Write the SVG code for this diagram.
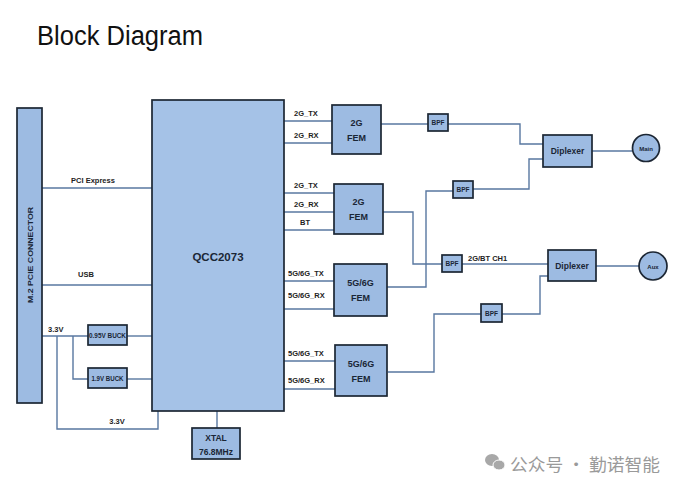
<svg xmlns="http://www.w3.org/2000/svg" width="682" height="490" viewBox="0 0 682 490">
<style>
.box{fill:#9dbbe2;stroke:#1c2633;stroke-width:1.7}
.big{fill:#a5c2e7;stroke:#1c2633;stroke-width:1.7}
.ln{fill:none;stroke:#5877a0;stroke-width:1.4}
text{font-family:"Liberation Sans",Arial,sans-serif;font-weight:bold;fill:#1a2636}
.lb{font-size:7.5px;fill:#222}
.c{text-anchor:middle}
.bpf{font-size:6.5px}
</style>
<rect width="682" height="490" fill="#ffffff"/>
<text x="37" y="45" font-size="27" style="font-weight:normal;fill:#111" textLength="166" lengthAdjust="spacingAndGlyphs">Block Diagram</text>

<g id="connectors">
<line class="ln" x1="42" y1="188" x2="152" y2="188"/>
<line class="ln" x1="42" y1="285" x2="152" y2="285"/>
<line class="ln" x1="42" y1="336" x2="88" y2="336"/>
<line class="ln" x1="127" y1="336" x2="152" y2="336"/>
<polyline class="ln" points="73,336 73,379 88,379"/>
<line class="ln" x1="127" y1="379" x2="152" y2="379"/>
<polyline class="ln" points="57,336 57,429 158,429 158,411"/>
<line class="ln" x1="217" y1="411" x2="217" y2="428"/>
<line class="ln" x1="284" y1="121" x2="332" y2="121"/>
<line class="ln" x1="284" y1="143" x2="332" y2="143"/>
<line class="ln" x1="284" y1="193" x2="334" y2="193"/>
<line class="ln" x1="284" y1="212" x2="334" y2="212"/>
<line class="ln" x1="284" y1="230" x2="334" y2="230"/>
<line class="ln" x1="284" y1="281" x2="334" y2="281"/>
<line class="ln" x1="284" y1="309" x2="334" y2="309"/>
<line class="ln" x1="284" y1="361" x2="335" y2="361"/>
<line class="ln" x1="284" y1="389" x2="335" y2="389"/>
<line class="ln" x1="381" y1="124" x2="428" y2="124"/>
<polyline class="ln" points="448,124 520,124 520,144 543,144"/>
<polyline class="ln" points="543,159 529,159 529,189 473,189"/>
<polyline class="ln" points="453,191 426,191 426,287 387,287"/>
<polyline class="ln" points="383,212 413,212 413,264 442,264"/>
<line class="ln" x1="462" y1="264" x2="548" y2="264"/>
<polyline class="ln" points="548,276 540,276 540,314 502,314"/>
<polyline class="ln" points="481,314 434,314 434,372 388,372"/>
<line class="ln" x1="592" y1="151" x2="632" y2="151"/>
<line class="ln" x1="596" y1="266" x2="639" y2="266"/>
</g>

<g id="m2">
<rect class="box" x="17" y="108" width="25" height="295"/>
<text class="c" font-size="8" transform="translate(33,255) rotate(-90)" textLength="96" lengthAdjust="spacingAndGlyphs">M.2 PCIE CONNECTOR</text>
</g>
<text class="lb c" x="93" y="183" font-size="8">PCI Express</text>
<text class="lb c" x="86" y="277" font-size="8">USB</text>
<text class="lb" x="48" y="332" font-size="7">3.3V</text>
<text class="lb c" x="117" y="424" font-size="7">3.3V</text>

<g id="qcc">
<rect class="big" x="152" y="100" width="132" height="311"/>
<text class="c" x="218" y="261" font-size="11.5">QCC2073</text>
</g>
<g id="buck095">
<rect class="box" x="88" y="325" width="39" height="20"/>
<text class="c" x="107.5" y="338" font-size="6.5" textLength="37" lengthAdjust="spacingAndGlyphs">0.95V BUCK</text>
</g>
<g id="buck19">
<rect class="box" x="88" y="368" width="39" height="20"/>
<text class="c" x="107.5" y="381" font-size="6.5" textLength="32" lengthAdjust="spacingAndGlyphs">1.9V BUCK</text>
</g>
<g id="xtal">
<rect class="box" x="192" y="428" width="48" height="31"/>
<text class="c" x="216" y="441" font-size="8.5">XTAL</text>
<text class="c" x="216" y="455" font-size="8.5">76.8MHz</text>
</g>

<g id="fem2g1">
<rect class="box" x="332" y="105" width="49" height="49"/>
<text class="c" x="356.5" y="126" font-size="9">2G</text>
<text class="c" x="356.5" y="141" font-size="9">FEM</text>
</g>
<text class="lb" x="294" y="116" font-size="7">2G_TX</text>
<text class="lb" x="294" y="138" font-size="7">2G_RX</text>

<g id="fem2g2">
<rect class="box" x="334" y="184" width="49" height="50"/>
<text class="c" x="358.5" y="205" font-size="9">2G</text>
<text class="c" x="358.5" y="220" font-size="9">FEM</text>
</g>
<text class="lb" x="294" y="188" font-size="7">2G_TX</text>
<text class="lb" x="294" y="207" font-size="7">2G_RX</text>
<text class="lb" x="300" y="225" font-size="7">BT</text>

<g id="fem5g1">
<rect class="box" x="334" y="264" width="53" height="52"/>
<text class="c" x="360.5" y="286" font-size="9">5G/6G</text>
<text class="c" x="360.5" y="301" font-size="9">FEM</text>
</g>
<text class="lb" x="288" y="276" font-size="7">5G/6G_TX</text>
<text class="lb" x="288" y="298" font-size="7">5G/6G_RX</text>

<g id="fem5g2">
<rect class="box" x="335" y="345" width="52" height="51"/>
<text class="c" x="361" y="367" font-size="9">5G/6G</text>
<text class="c" x="361" y="382" font-size="9">FEM</text>
</g>
<text class="lb" x="288" y="356" font-size="7">5G/6G_TX</text>
<text class="lb" x="288" y="383" font-size="7">5G/6G_RX</text>

<g id="bpf1">
<rect class="box" x="428" y="114" width="20" height="17"/>
<text class="c bpf" x="438" y="125">BPF</text>
</g>
<g id="bpf2">
<rect class="box" x="453" y="181" width="20" height="17"/>
<text class="c bpf" x="463" y="192">BPF</text>
</g>
<g id="bpf3">
<rect class="box" x="442" y="255" width="20" height="17"/>
<text class="c bpf" x="452" y="266">BPF</text>
</g>
<text class="lb" x="468" y="261" font-size="6.5">2G/BT CH1</text>
<g id="bpf4">
<rect class="box" x="481" y="304" width="21" height="18"/>
<text class="c bpf" x="491.5" y="316">BPF</text>
</g>

<g id="diplexer1">
<rect class="box" x="543" y="135" width="49" height="32"/>
<text class="c" x="567.5" y="154" font-size="8.5">Diplexer</text>
</g>
<g id="diplexer2">
<rect class="box" x="548" y="250" width="48" height="31"/>
<text class="c" x="572" y="269" font-size="8.5">Diplexer</text>
</g>
<g id="main">
<circle class="box" cx="646" cy="148" r="13.5"/>
<text class="c" x="646" y="150.5" font-size="6">Main</text>
</g>
<g id="aux">
<circle class="box" cx="653" cy="266" r="14"/>
<text class="c" x="653" y="268.5" font-size="6">Aux</text>
</g>

<g id="watermark">
<ellipse cx="492" cy="460" rx="7" ry="6" fill="#a8a8a8"/>
<ellipse cx="499" cy="465" rx="6" ry="5" fill="#a8a8a8" stroke="#fff" stroke-width="1"/>
<text x="510" y="471" font-size="17" style="font-weight:normal;fill:#9a9a9a;font-family:'Noto Sans CJK SC',sans-serif" textLength="150" lengthAdjust="spacingAndGlyphs">公众号 · 勤诺智能</text>
</g>
</svg>
